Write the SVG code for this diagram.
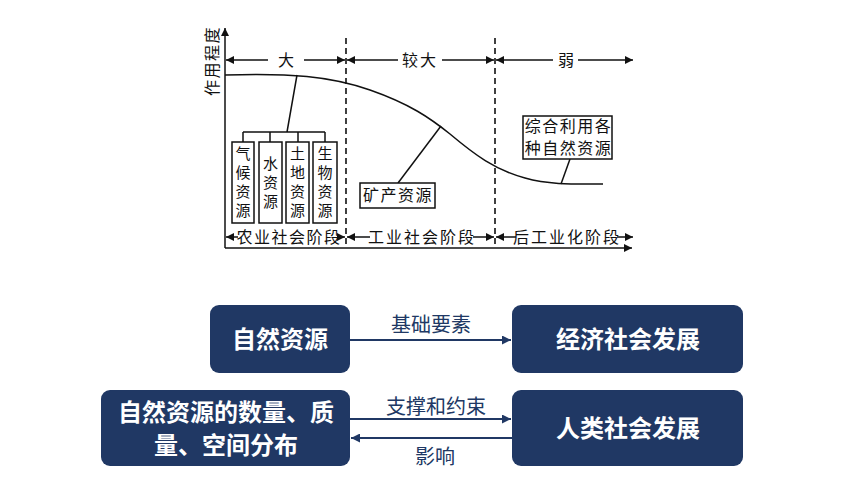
<svg xmlns="http://www.w3.org/2000/svg" width="860" height="484" viewBox="0 0 860 484">
<defs>
<marker id="ah" viewBox="0 0 10 10" refX="10" refY="5" markerWidth="9" markerHeight="8" markerUnits="userSpaceOnUse" orient="auto-start-reverse"><path d="M0,0 L10,5 L0,10 z" fill="#111"/></marker>
<marker id="nav" viewBox="0 0 10 10" refX="10" refY="5" markerWidth="10" markerHeight="9" markerUnits="userSpaceOnUse" orient="auto-start-reverse"><path d="M0,0 L10,5 L0,10 z" fill="#203864"/></marker>
<style>
.ln{stroke:#111;stroke-width:1.5;fill:none}
.dash{stroke:#111;stroke-width:1.6;stroke-dasharray:6 4;fill:none}
.bx{fill:#fff;stroke:#111;stroke-width:1.5}
.ct{font-family:"Noto Sans CJK SC","Noto Sans CJK JP",sans-serif;font-size:16px;fill:#111;text-anchor:middle}
.vt{font-family:"Noto Sans CJK SC","Noto Sans CJK JP",sans-serif;font-size:15px;fill:#111;text-anchor:middle;writing-mode:vertical-rl;letter-spacing:4px}
.nb{fill:#203864}
.nt{font-family:"Noto Sans CJK SC","Noto Sans CJK JP",sans-serif;font-size:24px;font-weight:bold;fill:#fff;text-anchor:middle}
.lt{font-family:"Noto Sans CJK SC","Noto Sans CJK JP",sans-serif;font-size:20px;fill:#203864;text-anchor:middle}
.na{stroke:#203864;stroke-width:2.2;fill:none}
</style>
</defs>

<g id="chart">
<path class="ln" d="M225,248 V28" marker-end="url(#ah)"/>
<path class="ln" d="M225,248 H632" marker-end="url(#ah)"/>
<text class="ct" transform="translate(218,61) rotate(-90)" font-size="15" letter-spacing="1.5">作用程度</text>
<path class="dash" d="M346,38 V248"/>
<path class="dash" d="M495,38 V248"/>
<path class="ln" d="M268,60 H226" marker-end="url(#ah)"/>
<path class="ln" d="M304,60 H345" marker-end="url(#ah)"/>
<text class="ct" x="286" y="66">大</text>
<path class="ln" d="M398,60 H347" marker-end="url(#ah)"/>
<path class="ln" d="M442,60 H494" marker-end="url(#ah)"/>
<text class="ct" x="420" y="66" letter-spacing="2">较大</text>
<path class="ln" d="M553,60 H496" marker-end="url(#ah)"/>
<path class="ln" d="M578,60 H633" marker-end="url(#ah)"/>
<text class="ct" x="566" y="66">弱</text>
<path class="ln" d="M238,237 H226" marker-end="url(#ah)"/>
<path class="ln" d="M338,237 H345" marker-end="url(#ah)"/>
<text class="ct" x="289" y="243" font-size="15" letter-spacing="1.5">农业社会阶段</text>
<path class="ln" d="M370,237 H347" marker-end="url(#ah)"/>
<path class="ln" d="M473,237 H494" marker-end="url(#ah)"/>
<text class="ct" x="422" y="243" font-size="15" letter-spacing="2">工业社会阶段</text>
<path class="ln" d="M516,237 H496" marker-end="url(#ah)"/>
<path class="ln" d="M617,237 H633" marker-end="url(#ah)"/>
<text class="ct" x="567" y="243" font-size="15" letter-spacing="2">后工业化阶段</text>
<path class="ln" d="M225,75 C290,73 330,76 370,90 C410,104 430,118 450,134 C475,155 495,170 525,178 C550,185 575,184 603,184"/>
<path class="ln" d="M297,75 L287,132 M243,132 H325 M243,132 V142 M270,132 V142 M298,132 V142 M325,132 V142"/>
<path class="ln" d="M398,183 L441,126"/>
<path class="ln" d="M570,159 L561,184"/>
</g>

<g id="climate">
<rect class="bx" x="232" y="142" width="22" height="81"/>
<text class="vt" x="243" y="184">气候资源</text>
</g>
<g id="water">
<rect class="bx" x="259" y="142" width="23" height="81"/>
<text class="vt" x="270.5" y="184">水资源</text>
</g>
<g id="land">
<rect class="bx" x="286" y="142" width="23" height="81"/>
<text class="vt" x="297.5" y="184">土地资源</text>
</g>
<g id="bio">
<rect class="bx" x="313" y="142" width="24" height="81"/>
<text class="vt" x="325" y="184">生物资源</text>
</g>
<g id="mineral">
<rect class="bx" x="360" y="183" width="75" height="25"/>
<text class="ct" x="398" y="201" font-size="15" letter-spacing="1.5">矿产资源</text>
</g>
<g id="comprehensive">
<rect class="bx" x="523" y="116" width="89" height="43"/>
<text class="ct" x="568.5" y="131.5" font-size="14" letter-spacing="1.5">综合利用各</text>
<text class="ct" x="568.5" y="153.5" font-size="14" letter-spacing="1.5">种自然资源</text>
</g>

<g id="n1">
<rect class="nb" x="210" y="305" width="140" height="68" rx="9"/>
<text class="nt" x="280" y="348">自然资源</text>
</g>
<g id="n2">
<rect class="nb" x="512" y="305" width="231" height="68" rx="9"/>
<text class="nt" x="628" y="348">经济社会发展</text>
</g>
<g id="n3">
<rect class="nb" x="101" y="390" width="249" height="76" rx="9"/>
<text class="nt" x="226" y="421" font-size="25.5">自然资源的数量、质</text>
<text class="nt" x="226" y="454" font-size="25.5">量、空间分布</text>
</g>
<g id="n4">
<rect class="nb" x="512" y="390" width="231" height="76" rx="9"/>
<text class="nt" x="628" y="437">人类社会发展</text>
</g>

<g id="connectors">
<path class="na" d="M350,340 H511" marker-end="url(#nav)"/>
<text class="lt" x="431" y="332">基础要素</text>
<path class="na" d="M350,419 H511" marker-end="url(#nav)"/>
<text class="lt" x="436" y="414">支撑和约束</text>
<path class="na" d="M512,438 H351" marker-end="url(#nav)"/>
<text class="lt" x="435" y="464">影响</text>
</g>
</svg>
